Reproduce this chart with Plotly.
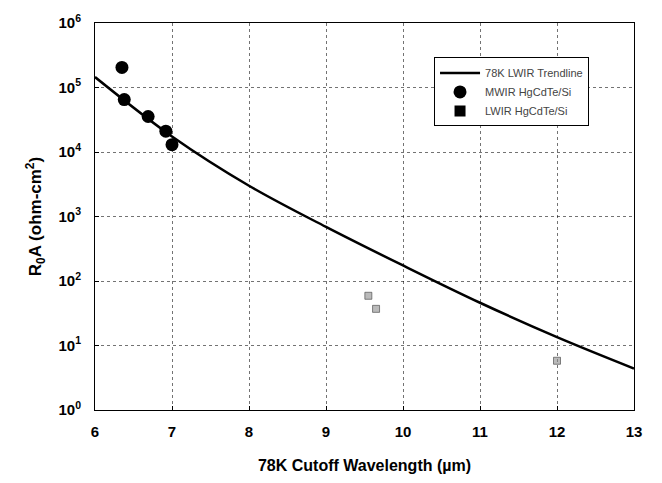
import plotly.graph_objects as go

# 78K LWIR trendline (R0A vs cutoff wavelength)
trend_wl = [6, 7, 8, 9, 10, 11, 12, 13]
trend_r0a = [1.45e5, 1.74e4, 3.0e3, 690, 174, 46, 13.5, 4.4]

# MWIR HgCdTe/Si measured devices
mwir_wl = [6.35, 6.38, 6.69, 6.92, 7.0]
mwir_r0a = [2.05e5, 6.5e4, 3.55e4, 2.1e4, 1.3e4]

# LWIR HgCdTe/Si measured devices
lwir_wl = [9.55, 9.65, 12.0]
lwir_r0a = [59, 37, 5.8]

x_ticks = [6, 7, 8, 9, 10, 11, 12, 13]
y_ticks = [1, 10, 100, 1e3, 1e4, 1e5, 1e6]
y_labels = ["<b>10<sup>%d</sup></b>" % i for i in range(7)]

fig = go.Figure()
fig.add_trace(go.Scatter(
    x=trend_wl, y=trend_r0a, mode="lines", name="78K LWIR Trendline",
    line=dict(color="black", width=2.5, shape="spline", smoothing=1.0),
))
fig.add_trace(go.Scatter(
    x=mwir_wl, y=mwir_r0a, mode="markers", name="MWIR HgCdTe/Si",
    marker=dict(symbol="circle", size=13, color="black"),
))
fig.add_trace(go.Scatter(
    x=lwir_wl, y=lwir_r0a, mode="markers", name="LWIR HgCdTe/Si",
    showlegend=False,
    marker=dict(symbol="square", size=7, color="rgba(140,140,140,0.6)",
                line=dict(color="rgba(60,60,60,0.6)", width=1)),
))
fig.add_trace(go.Scatter(
    x=[None], y=[None], mode="markers", name="LWIR HgCdTe/Si",
    marker=dict(symbol="square", size=11, color="black"),
))

axis_common = dict(
    showline=True, linecolor="black", linewidth=1, mirror=True,
    ticks="inside", ticklen=4, tickcolor="black",
    showgrid=True, gridcolor="rgba(0,0,0,0.55)", griddash="dot", gridwidth=1,
    zeroline=False,
    tickfont=dict(family="Liberation Sans, Arial", size=15, color="black"),
)

fig.update_layout(
    width=662, height=483,
    margin=dict(l=95, r=28, t=17, b=73),
    paper_bgcolor="white", plot_bgcolor="white",
    font=dict(family="Liberation Sans, Arial", color="black"),
    xaxis=dict(
        range=[6, 13], tickvals=x_ticks,
        ticktext=["<b>%d</b>" % v for v in x_ticks],
        ticklabelstandoff=8,
        title=dict(text="<b>78K Cutoff Wavelength (\u00b5m)</b>",
                   font=dict(size=16), standoff=20),
        **axis_common,
    ),
    yaxis=dict(
        type="log", range=[0, 6], tickvals=y_ticks, ticktext=y_labels,
        ticklabelstandoff=10,
        title=dict(text="<b>R<sub>0</sub>A (ohm-cm<sup>2</sup>)</b>",
                   font=dict(size=17), standoff=12),
        **axis_common,
    ),
    legend=dict(
        x=0.629, y=0.911, xanchor="left", yanchor="top",
        bgcolor="white", bordercolor="black", borderwidth=1,
        font=dict(size=11, color="#444"),
        itemwidth=40, tracegroupgap=0,
    ),
)

fig.write_html("out.html")
